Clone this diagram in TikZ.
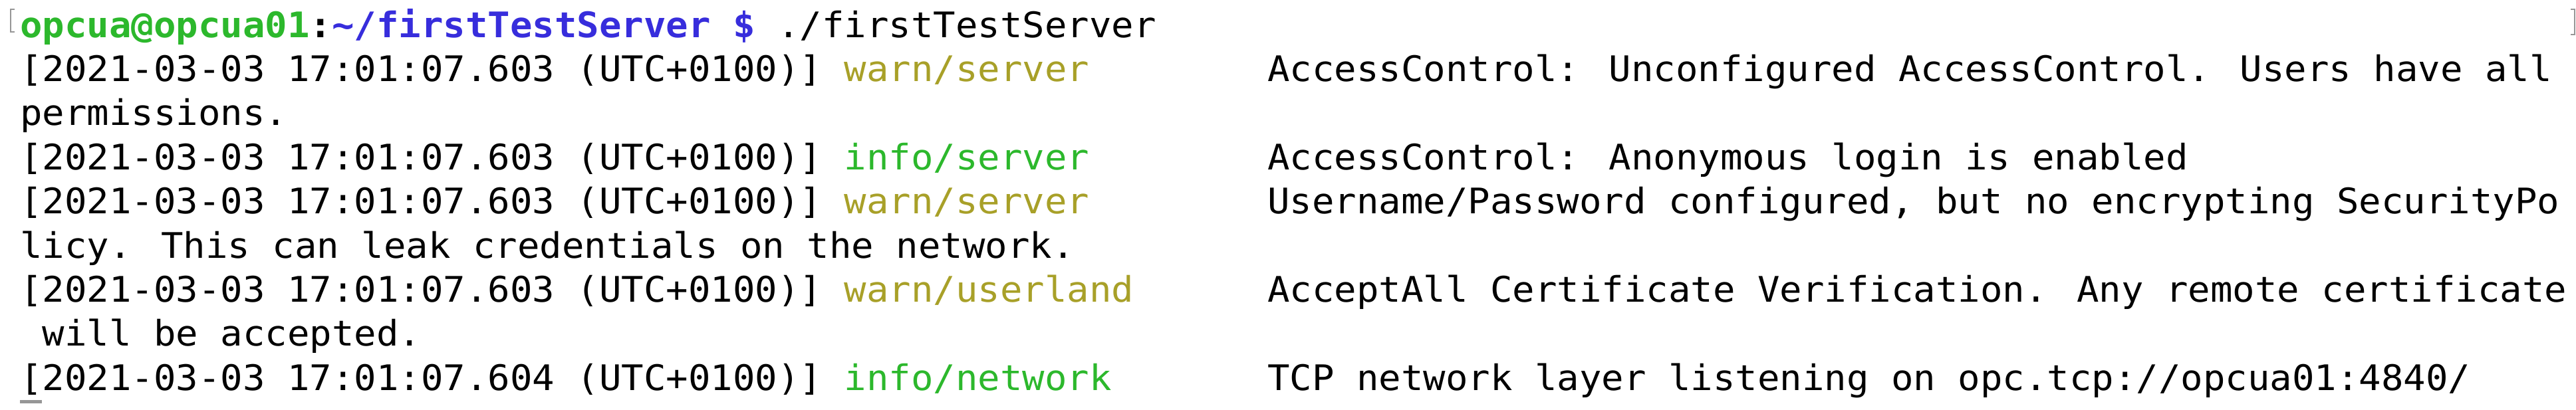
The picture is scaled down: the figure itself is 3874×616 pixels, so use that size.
\documentclass[tikz,border=0pt]{standalone}
\usepackage{fontspec}
\newfontfamily\term[FakeStretch=1.05]{DejaVu Sans Mono}
\definecolor{tgreen}{RGB}{44,184,44}
\definecolor{tolive}{RGB}{168,160,40}
\definecolor{tblue}{RGB}{55,45,220}
\definecolor{tmark}{RGB}{150,150,150}
\tikzset{
  line/.style={anchor=base west, inner sep=0pt, outer sep=0pt, font=\term\fontsize{53}{60}\selectfont, text=black},
  warntag/.style={line, text=tolive},
  infotag/.style={line, text=tgreen},
  markline/.style={draw=tmark, line width=2.2pt},
}
\newcommand{\cx}[1]{30+33.5*#1}
\newcommand{\by}[1]{56+66.4*(#1-1)}
\begin{document}
\begin{tikzpicture}[x=1pt,y=-1pt]
\useasboundingbox (0,0) rectangle (3874,616);
\fill[white] (0,0) rectangle (3874,616);
% terminal marks
\draw[markline] (22,14) -- (16,14) -- (16,48) -- (22,48);
\draw[markline] (3866,14) -- (3872,14) -- (3872,52) -- (3866,52);
% row 1: prompt
\node[line] (prompt) at ({\cx{0}},{\by{1}}) {\textbf{\textcolor{tgreen}{opcua@opcua01}:\textcolor{tblue}{\textasciitilde/firstTestServer \$}} ./firstTestServer};
% row 2
\node[line] (ts1) at ({\cx{0}},{\by{2}}) {[2021-03-03 17:01:07.603 (UTC+0100)]};
\node[warntag] (tag1) at ({\cx{37}},{\by{2}}) {warn/server};
\node[line] (msg1) at ({\cx{56}},{\by{2}}) {AccessControl: Unconfigured AccessControl. Users have all};
% row 3
\node[line] (cont1) at ({\cx{0}},{\by{3}}) {permissions.};
% row 4
\node[line] (ts2) at ({\cx{0}},{\by{4}}) {[2021-03-03 17:01:07.603 (UTC+0100)]};
\node[infotag] (tag2) at ({\cx{37}},{\by{4}}) {info/server};
\node[line] (msg2) at ({\cx{56}},{\by{4}}) {AccessControl: Anonymous login is enabled};
% row 5
\node[line] (ts3) at ({\cx{0}},{\by{5}}) {[2021-03-03 17:01:07.603 (UTC+0100)]};
\node[warntag] (tag3) at ({\cx{37}},{\by{5}}) {warn/server};
\node[line] (msg3) at ({\cx{56}},{\by{5}}) {Username/Password configured, but no encrypting SecurityPo};
% row 6
\node[line] (cont3) at ({\cx{0}},{\by{6}}) {licy. This can leak credentials on the network.};
% row 7
\node[line] (ts4) at ({\cx{0}},{\by{7}}) {[2021-03-03 17:01:07.603 (UTC+0100)]};
\node[warntag] (tag4) at ({\cx{37}},{\by{7}}) {warn/userland};
\node[line] (msg4) at ({\cx{56}},{\by{7}}) {AcceptAll Certificate Verification. Any remote certificate};
% row 8
\node[line] (cont4) at ({\cx{1}},{\by{8}}) {will be accepted.};
% row 9
\node[line] (ts5) at ({\cx{0}},{\by{9}}) {[2021-03-03 17:01:07.604 (UTC+0100)]};
\node[infotag] (tag5) at ({\cx{37}},{\by{9}}) {info/network};
\node[line] (msg5) at ({\cx{56}},{\by{9}}) {TCP network layer listening on opc.tcp://opcua01:4840/};
% cursor
\fill[tmark] (30,602) rectangle (63,607);
\end{tikzpicture}
\end{document}
